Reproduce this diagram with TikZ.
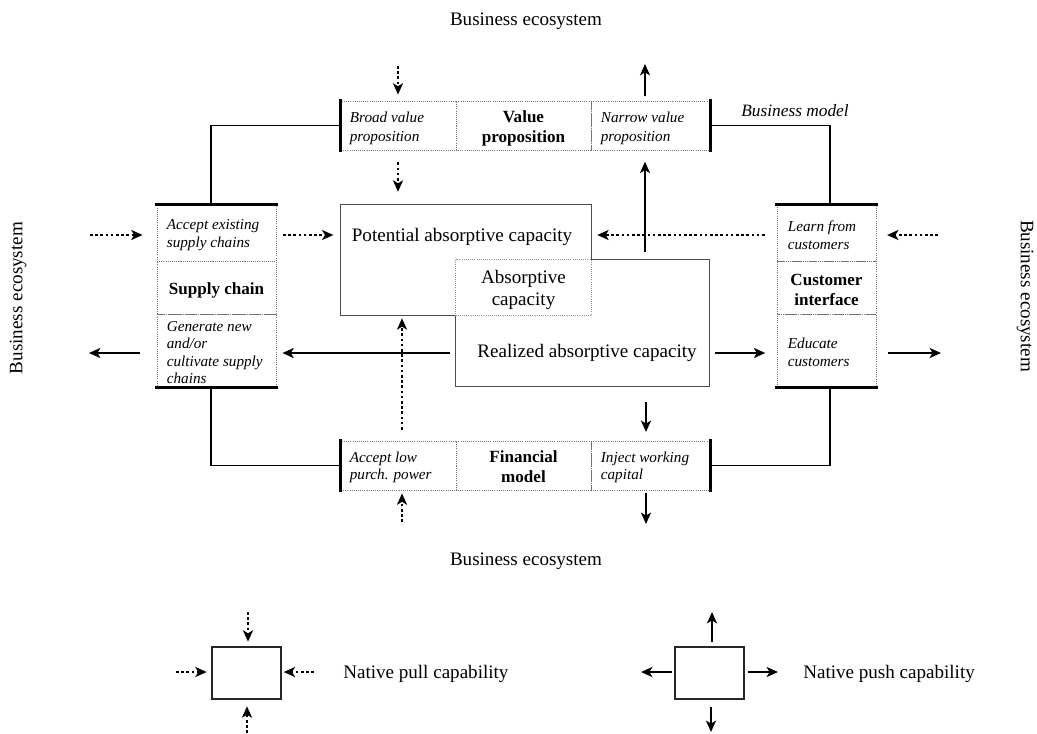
\documentclass[tikz,border=0pt]{standalone}
\usepackage{fontspec}
\setmainfont{Liberation Serif}
\usetikzlibrary{arrows.meta,calc,shadows}

\begin{document}
\begin{tikzpicture}[x=0.75pt,y=-0.75pt,
  >={Stealth[length=8.5pt,width=7.5pt,inset=2.2pt]},
  txt/.style={font=\fontsize{14.3}{16.5}\selectfont, inner sep=0pt, align=center},
  itx/.style={font=\fontsize{11.4}{13.2}\selectfont\itshape, align=left, inner sep=0pt, anchor=west},
  bfx/.style={font=\fontsize{12.8}{15}\selectfont\bfseries, align=center, inner sep=0pt},
  cell/.style 2 args={draw=black!55, densely dotted, line width=0.6pt, inner sep=0pt,
                      minimum width=#1, minimum height=#2},
  edge/.style={line width=2pt, line cap=rect},
  frame/.style={line width=1.1pt},
  boxline/.style={draw=black!70, line width=0.8pt},
  overlap/.style={draw=black!45, densely dotted, line width=0.6pt},
  pull/.style={->, line width=1.9pt, dash pattern=on 1.9pt off 2pt},
  push/.style={->, line width=2pt},
  legbox/.style={draw=black!85, line width=1pt, fill=white, minimum width=51.75pt,
                 minimum height=39pt, inner sep=0pt,
                 drop shadow={shadow xshift=0.8pt, shadow yshift=-0.8pt, opacity=0.25}}
]
\useasboundingbox (0,0) rectangle (1037,733);

% ---- value proposition row
\node[cell={86.25pt}{36.75pt}]  (vpL) at (398.5,125.5) {};
\node[cell={101.25pt}{36.75pt}] (vpC) at (523.5,125.5) {};
\node[cell={89.25pt}{36.75pt}]  (vpR) at (650.5,125.5) {};
\node[itx, font=\fontsize{11.4}{13.8}\selectfont\itshape] (vpLt) at ([xshift=6.75pt,yshift=-2pt]vpL.west) {Broad value\\proposition};
\node[bfx] (vpCt) at ([yshift=-2.2pt]vpC.center) {Value\\proposition};
\node[itx, font=\fontsize{11.4}{13.8}\selectfont\itshape] (vpRt) at ([xshift=7.5pt,yshift=-2pt]vpR.west) {Narrow value\\proposition};
\draw[edge] (vpL.north west) -- (vpL.south west);
\draw[edge] (vpR.north east) -- (vpR.south east);

% ---- financial model row
\node[cell={86.25pt}{36.75pt}]  (fmL) at (398.5,465.5) {};
\node[cell={101.25pt}{36.75pt}] (fmC) at (523.5,465.5) {};
\node[cell={89.25pt}{36.75pt}]  (fmR) at (650.5,465.5) {};
\node[itx] (fmLt) at ([xshift=6.75pt,yshift=-1.5pt]fmL.west) {Accept low\\purch. power};
\node[bfx] (fmCt) at ([yshift=-0.8pt]fmC.center) {Financial\\model};
\node[itx] (fmRt) at ([xshift=7.5pt,yshift=-1.5pt]fmR.west) {Inject working\\capital};
\draw[edge] (fmL.north west) -- (fmL.south west);
\draw[edge] (fmR.north east) -- (fmR.south east);

% ---- supply chain column
\node[cell={89.25pt}{42pt}]    (sc1) at (216.5,233) {};
\node[cell={89.25pt}{39.75pt}] (sc2) at (216.5,287.5) {};
\node[cell={89.25pt}{54.75pt}] (sc3) at (216.5,350.5) {};
\node[itx] (sc1t) at ([xshift=7.5pt,yshift=-1.5pt]sc1.west) {Accept existing\\supply chains};
\node[bfx] (sc2t) at ([yshift=-2pt]sc2.center) {Supply chain};
\node[itx] (sc3t) at ([xshift=7.5pt,yshift=-1.5pt]sc3.west) {Generate new\\and/or\\cultivate supply\\chains};
\draw[edge] (sc1.north west) -- (sc1.north east);
\draw[edge] (sc3.south west) -- (sc3.south east);

% ---- customer interface column
\node[cell={74.25pt}{42pt}]    (ci1) at (826.5,233) {};
\node[cell={74.25pt}{39.75pt}] (ci2) at (826.5,287.5) {};
\node[cell={74.25pt}{54.75pt}] (ci3) at (826.5,350.5) {};
\node[itx] (ci1t) at ([xshift=8.25pt,yshift=-1.5pt]ci1.west) {Learn from\\customers};
\node[bfx] (ci2t) at ([yshift=-1.5pt]ci2.center) {Customer\\interface};
\node[itx] (ci3t) at ([xshift=8.25pt,yshift=-1.5pt]ci3.west) {Educate\\customers};
\draw[edge] (ci1.north west) -- (ci1.north east);
\draw[edge] (ci3.south west) -- (ci3.south east);

% ---- business model frame
\draw[frame] ([xshift=-4pt]sc1.north) |- (vpL.west);
\draw[frame] ([xshift=2.6pt]ci1.north) |- (vpR.east);
\draw[frame] ([xshift=-4pt]sc3.south) |- (fmL.west);
\draw[frame] ([xshift=2.6pt]ci3.south) |- (fmR.east);
\node[font=\fontsize{13}{15}\selectfont\itshape, inner sep=0pt] (bm) at (795,111) {Business model};

% ---- absorptive capacity
\node[minimum width=187.5pt, minimum height=82.5pt, inner sep=0pt] (pot) at (466,260) {};
\node[minimum width=189.75pt, minimum height=94.5pt, inner sep=0pt] (real) at (582.5,323) {};
\draw[boxline] (pot.south -| real.west) -- (pot.south west) -- (pot.north west) -- (pot.north east)
  -- (real.north -| pot.east) -- (real.north east) -- (real.south east) -- (real.south west) -- cycle;
\node[txt, minimum width=101.25pt, minimum height=41.25pt, text depth=0pt] (abs) at (523.5,287.5) {Absorptive\\capacity};
\draw[overlap] (abs.north west) rectangle (abs.south east);
\node[txt] (potlbl) at (462,236.5) {Potential absorptive capacity};
\node[txt] (reallbl) at (587,353) {Realized absorptive capacity};

% ---- surroundings
\node[txt] (ecoN) at (526,21) {Business ecosystem};
\node[txt] (ecoS) at (526,561) {Business ecosystem};
\node[txt, rotate=90] (ecoW) at (18,298) {Business ecosystem};
\node[txt, rotate=-90] (ecoE) at (1025,296) {Business ecosystem};

% ---- free ends of the flows
\coordinate (topIn) at (398,66);
\coordinate (topOut) at (645,64);
\coordinate (botIn) at (402,522);
\coordinate (botOut) at (646,524);
\coordinate (leftIn) at (90,235);
\coordinate (leftOut) at (89,353);
\coordinate (rightIn) at (938,235);
\coordinate (rightOut) at (941,353);

% ---- flows
\draw[pull, shorten >=4.5pt] (topIn) -- (topIn |- vpL.north);
\draw[push, shorten <=3.75pt] (topOut |- vpR.north) -- (topOut);
\draw[pull, shorten <=9pt, shorten >=9.75pt] (topIn |- vpL.south) -- (topIn |- pot.north);
\draw[push, shorten <=6pt, shorten >=8.5pt] (topOut |- real.north) -- (topOut |- vpR.south);
\draw[pull, shorten >=10.5pt] (leftIn) -- (leftIn -| sc1.west);
\draw[pull, shorten <=5pt, shorten >=5.5pt] (leftIn -| sc1.east) -- (leftIn -| pot.west);
\draw[pull, shorten <=9pt, shorten >=4.5pt] (rightIn -| ci1.west) -- (rightIn -| pot.east);
\draw[pull, shorten >=8pt] (rightIn) -- (rightIn -| ci1.east);
\draw[push, shorten <=4.5pt, shorten >=4.5pt] (leftOut -| real.west) -- (leftOut -| sc3.east);
\draw[push, shorten <=12.75pt] (leftOut -| sc3.west) -- (leftOut);
\draw[push, shorten <=4pt, shorten >=8.5pt] (rightOut -| real.east) -- (rightOut -| ci3.west);
\draw[push, shorten <=9pt] (rightOut -| ci3.east) -- (rightOut);
\draw[pull, shorten <=8.25pt, shorten >=2.25pt] (botIn |- fmL.north) -- (botIn |- pot.south);
\draw[push, shorten <=12pt, shorten >=6.5pt] (botOut |- real.south) -- (botOut |- fmR.north);
\draw[pull, shorten >=2.25pt] (botIn) -- (botIn |- fmL.south);
\draw[push, shorten <=2.25pt] (botOut |- fmR.south) -- (botOut);

% ---- legend
\node[legbox] (pullbox) at (246.5,673) {};
\node[legbox] (pushbox) at (709.5,673) {};
\coordinate (pullN) at (248,612);
\coordinate (pullW) at (176,672);
\coordinate (pullE) at (314,672);
\coordinate (pullS) at (247,733);
\draw[pull, shorten >=3.5pt] (pullN) -- (pullN |- pullbox.north);
\draw[pull, shorten >=3.5pt] (pullW) -- (pullW -| pullbox.west);
\draw[pull, shorten >=1.5pt] (pullE) -- (pullE -| pullbox.east);
\draw[pull, shorten >=5pt] (pullS) -- (pullS |- pullbox.south);
\coordinate (pushN) at (712,612);
\coordinate (pushW) at (641,672);
\coordinate (pushE) at (778,672);
\coordinate (pushS) at (711,732);
\draw[push, shorten <=3pt] (pushN |- pushbox.north) -- (pushN);
\draw[push, shorten <=1.5pt] (pushW -| pushbox.west) -- (pushW);
\draw[push, shorten <=2.25pt] (pushE -| pushbox.east) -- (pushE);
\draw[push, shorten <=5.25pt] (pushS |- pushbox.south) -- (pushS);
\node[txt, anchor=west] (pullLbl) at (343,674) {Native pull capability};
\node[txt, anchor=west] (pushLbl) at (803,674) {Native push capability};
\end{tikzpicture}
\end{document}
